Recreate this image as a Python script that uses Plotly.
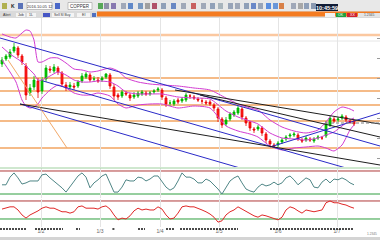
import plotly.graph_objects as go

W, H = 380, 240

# ---------------- data ----------------
bar_idx = list(range(89))
opens = [354,359,361,367,370,362,352,325,331,337,
         327,339,349,347,350,345,333,331,332,332,
         337,341,343,339,338,338,341,343,331,323,
         322,325,323,321,322,324,325,324,326,328,
         328,320,315,314,318,317,318,322,321,319,
         317,316,316,313,309,299,294,299,303,305,
         309,300,296,289,289,290,284,277,273,273,
         276,279,282,283,283,278,278,279,277,280,
         280,282,293,299,298,300,301,297,297]
highs = [361,364,369,375,372,364,355,334,342,340,
         341,353,352,354,352,347,336,336,335,338,
         345,346,345,342,341,342,345,345,334,325,
         328,327,325,326,327,328,327,327,329,331,
         330,322,318,319,320,321,325,324,323,321,
         320,318,318,315,311,301,301,306,308,312,
         311,302,297,291,293,292,286,279,275,277,
         280,283,285,286,285,280,282,281,281,283,
         282,297,302,301,301,304,303,299,298]
lows = [351,357,359,365,360,353,318,322,328,320,
        324,336,345,345,343,331,327,328,328,330,
        335,339,336,336,335,336,339,329,318,318,
        320,322,317,319,320,322,322,322,324,326,
        318,311,312,312,314,315,316,319,318,316,
        314,313,312,307,296,290,292,297,301,303,
        298,292,287,285,287,282,275,271,270,271,
        274,277,280,281,277,275,276,276,275,278,
        278,280,291,295,296,298,296,294,292]
closes = [358,362,366,371,363,356,323,330,338,326,
          338,350,348,351,346,334,330,333,331,336,
          342,344,338,339,337,340,344,332,322,321,
          326,324,320,323,325,326,324,325,327,329,
          321,314,315,317,316,319,323,322,320,318,
          317,315,314,310,300,293,298,304,306,310,
          301,295,290,288,291,285,278,274,272,275,
          278,281,283,284,279,277,280,278,279,281,
          280,294,300,297,299,302,298,296,294]

band_idx = [0,2,3.5,5,6,7,8,9,10,12,14,16,18,20,22,24,27,29,31,34,37,40,44,48,52,
            56,59,62,64,67,70,73,76,79,81,83,85,87,88]
band_upper = [384,381,380,385,388,387,378,356,356,360,360,355,349,348,346,347,350,347,
              340,336,334,333,332,330,328,320,314,310,308,298,291,287,285,288,296,306,
              311,309,307]
band_mid = [371,364,360,356,352,348,344,338,338,342,346,343,338,336,336,337,336,332,
            326,324,324,324,321,320,319,307,301,297,294,285,280,279,278,280,283,286,
            292,298,300]
band_lower = [358,346,336,318,312,310,311,314,320,328,333,330,325,323,323,325,322,314,
              310,313,314,314,310,312,310,292,287,284,281,272,268,270,271,272,270,267,
              273,288,293]

osc1 = [44,44,64,75,62,46,49,54,54,54,
        70,72,62,54,46,36,25,38,54,67,
        75,64,36,49,57,67,72,46,25,25,
        38,57,54,54,64,62,54,59,67,67,
        51,38,30,36,54,75,64,64,59,49,
        49,59,54,44,33,20,38,54,62,67,
        49,33,28,25,38,46,41,44,51,44,
        49,62,67,57,44,54,62,57,38,36,
        51,59,49,59,57,62,57,49,44]
osc2 = [52,54,57,57,50,39,32,39,43,48,
        54,57,54,54,50,46,46,43,46,57,
        59,54,54,54,52,57,59,52,39,28,
        32,30,37,48,54,50,52,50,50,57,
        52,39,30,32,43,57,59,57,57,54,
        50,46,41,34,23,26,39,46,50,57,
        52,46,41,37,34,39,37,34,30,28,
        34,50,57,54,48,43,50,48,46,48,
        50,66,70,66,66,63,61,57,54]

levels = [340, 327, 313, 297, 270]
level_top = 383
level_faint = 377
last_price = 295

blue_lines = [((-0.5, 380), (94.5, 272)),
              ((10.25, 337), (86, 250)),
              ((4.5, 314), (59.5, 250)),
              ((67, 271), (94.5, 305))]
black_lines = [((43.25, 328), (94.5, 294)),
               ((49.5, 323), (94.5, 281)),
               ((4.5, 314), (94.5, 253))]
orange_lines = [((1.5, 358), (16.25, 270))]

grid_idx = [9.75, 24.5, 39.5, 54.25, 69, 83.75]
grid_labels = ["1/2", "1/3", "1/4", "1/5", "1/6", "1/7"]
osc1_levels = (80, 20)
osc2_levels = (70, 30)
day_mark_ranges = [(-0.5, 6.25), (8.25, 15.25), (18.5, 19.5), (27.6, 28.1), (34, 35.75),
                   (41, 43.25), (44.5, 59), (67, 87.75)]

# ---------------- figure ----------------
def py(p):
    return 1 - p / H

def pxr(p):
    return p / W

XR = [-0.5, 94.5]
fig = go.Figure()

fig.add_trace(go.Candlestick(
    x=bar_idx, open=opens, high=highs, low=lows, close=closes,
    increasing=dict(line=dict(color="#00b400", width=0.8), fillcolor="#00c800"),
    decreasing=dict(line=dict(color="#e80000", width=0.8), fillcolor="#ff2020"),
    whiskerwidth=0, xaxis="x", yaxis="y", hoverinfo="skip", showlegend=False))

for vals in (band_upper, band_mid, band_lower):
    fig.add_trace(go.Scatter(x=band_idx, y=vals, mode="lines",
                             line=dict(color="#d23cd2", width=1, shape="spline", smoothing=0.6),
                             xaxis="x", yaxis="y", hoverinfo="skip", showlegend=False))

for group, col in ((blue_lines, "#2a2ac8"), (black_lines, "#1e1e1e"), (orange_lines, "#f2a868")):
    for (a, b) in group:
        fig.add_trace(go.Scatter(x=[a[0], b[0]], y=[a[1], b[1]], mode="lines",
                                 line=dict(color=col, width=1), xaxis="x", yaxis="y",
                                 hoverinfo="skip", showlegend=False))

fig.add_trace(go.Scatter(x=bar_idx, y=osc1, mode="lines", line=dict(color="#4f8686", width=1),
                         xaxis="x2", yaxis="y2", hoverinfo="skip", showlegend=False))
fig.add_trace(go.Scatter(x=bar_idx, y=osc2, mode="lines", line=dict(color="#e02828", width=1),
                         xaxis="x3", yaxis="y3", hoverinfo="skip", showlegend=False))

shapes = []
# toolbar backgrounds
shapes.append(dict(type="rect", xref="paper", yref="paper", x0=0, x1=1, y0=py(11), y1=1,
                   fillcolor="#e8e8e8", line=dict(width=0), layer="above"))
shapes.append(dict(type="rect", xref="paper", yref="paper", x0=0, x1=1, y0=py(18), y1=py(11),
                   fillcolor="#dadada", line=dict(width=0), layer="above"))
shapes.append(dict(type="rect", xref="paper", yref="paper", x0=pxr(97), x1=1, y0=py(16.5), y1=py(11.5),
                   fillcolor="#f47b20", line=dict(width=0), layer="above"))
for x0, x1, c in ((325, 335, "#f2f2f2"), (336, 346, "#1fa040"), (347, 357, "#d02030"), (358, 380, "#e4e4e4"),
                  (16, 25, "#f4f4f4"), (27, 36, "#f4f4f4"), (43, 50, "#4656c4"), (52, 74, "#f4f4f4"),
                  (77, 90, "#f4f4f4"), (92, 96, "#5070c0")):
    shapes.append(dict(type="rect", xref="paper", yref="paper", x0=pxr(x0), x1=pxr(x1), y0=py(17), y1=py(13),
                       fillcolor=c, line=dict(width=0), layer="above"))
icons = [(2, "#b0b050"), (18, "#5a72b8"), (55, "#4a68c8"), (98, "#58a858"), (104, "#9090a8"),
         (111, "#8878b0"), (121, "#a0a8b8"), (128, "#6088c8"), (138, "#7898c0"), (145, "#a0a0a0"),
         (152, "#b05068"), (161, "#90a0b8"), (171, "#6a88c4"), (181, "#a0a8b8"), (191, "#c86060"),
         (201, "#a0a8b8"), (210, "#90a0b8"), (218, "#a8b4bc"), (228, "#98a4b8"), (235, "#a0a8b8"),
         (244, "#90a0b8"), (251, "#6a88c8"), (258, "#98a4b8"), (266, "#5a8ee0"), (273, "#6a96d8"),
         (279, "#d88048"), (291, "#a0a8b8"), (298, "#a8a8a8"), (304, "#90a0b8"), (311, "#8898b0")]
for x0, c in icons:
    shapes.append(dict(type="rect", xref="paper", yref="paper", x0=pxr(x0), x1=pxr(x0 + 5),
                       y0=py(9), y1=py(3), fillcolor=c, line=dict(width=0), layer="above"))
for x0, x1 in ((27, 52), (68, 92)):
    shapes.append(dict(type="rect", xref="paper", yref="paper", x0=pxr(x0), x1=pxr(x1),
                       y0=py(9.5), y1=py(2.5), fillcolor="#ffffff",
                       line=dict(width=0.6, color="#9a9a9a"), layer="above"))
shapes.append(dict(type="rect", xref="paper", yref="paper", x0=pxr(316), x1=pxr(338),
                   y0=py(11), y1=py(4), fillcolor="#101c36", line=dict(width=0), layer="above"))

# price levels
shapes.append(dict(type="line", xref="paper", yref="y", x0=0, x1=1, y0=level_faint, y1=level_faint,
                   line=dict(color="#e6e6e6", width=1), layer="below"))
shapes.append(dict(type="line", xref="paper", yref="y", x0=0, x1=1, y0=level_top, y1=level_top,
                   line=dict(color="#fbc8a0", width=2.5), layer="below"))
for lv in levels:
    shapes.append(dict(type="line", xref="paper", yref="y", x0=0, x1=1, y0=lv, y1=lv,
                       line=dict(color="#f2a560", width=1.5), layer="below"))
shapes.append(dict(type="line", xref="x", yref="y", x0=81, x1=XR[1], y0=last_price, y1=last_price,
                   line=dict(color="#7a7a7a", width=1, dash="3px,2px"), layer="above"))

# oscillator guide lines
for yr, lv in (("y2", osc1_levels), ("y3", osc2_levels)):
    shapes.append(dict(type="line", xref="paper", yref=yr, x0=0, x1=1, y0=lv[0], y1=lv[0],
                       line=dict(color="#b03a3a", width=1), layer="below"))
    shapes.append(dict(type="line", xref="paper", yref=yr, x0=0, x1=1, y0=lv[1], y1=lv[1],
                       line=dict(color="#2e9e3e", width=1), layer="below"))
shapes.append(dict(type="line", xref="paper", yref="paper", x0=0, x1=1, y0=py(168), y1=py(168),
                   line=dict(color="#9fd09f", width=1)))
# day marks strip
for a, b in day_mark_ranges:
    shapes.append(dict(type="line", xref="x3", yref="paper", x0=a, x1=b, y0=py(229), y1=py(229),
                       line=dict(color="#111111", width=1.5, dash="2px,1px")))
shapes.append(dict(type="rect", xref="paper", yref="paper", x0=0, x1=1, y0=0, y1=py(237),
                   fillcolor="#d4d4d4", line=dict(width=0)))

annotations = []
def txt(x, y, s, size=4.5, color="#333333", bold=False):
    annotations.append(dict(xref="paper", yref="paper", x=pxr(x), y=py(y), text=("<b>%s</b>" % s) if bold else s,
                            showarrow=False, xanchor="center", yanchor="middle",
                            font=dict(size=size, color=color, family="Liberation Sans")))
txt(39.5, 6, "2016.10.05 12", 4)
txt(80, 6, "COPPER", 4.5)
txt(12.5, 6, "K", 5, "#222222", True)
txt(327, 7.6, "10:45:59", 5.5, "#ffffff", True)
txt(7, 15, "Alert", 3.6)
txt(20.5, 15, "Job", 3.6)
txt(31.5, 15, "1L", 3.6)
txt(63, 15, "Sell Sl Buy", 3.4)
txt(83.5, 15, "EI", 3.6)
txt(341, 15, "OK", 3.6, "#ffffff")
txt(352, 15, "XX", 3.6, "#ffffff")
txt(369, 15, "1.2345", 3.4, "#555555")
txt(372, 233.5, "1.2345", 3.2, "#777777")

grid_kw = dict(showgrid=True, gridcolor="#e4e4e4", gridwidth=1, tickvals=grid_idx, zeroline=False,
               range=XR, showline=False, fixedrange=True)
fig.update_layout(
    width=W, height=H, margin=dict(l=0, r=0, t=0, b=0, pad=0),
    paper_bgcolor="white", plot_bgcolor="white", showlegend=False,
    font=dict(family="Liberation Sans", size=5, color="#555555"),
    xaxis=dict(domain=[0, 1], anchor="y", showticklabels=False, rangeslider=dict(visible=False), **grid_kw),
    yaxis=dict(domain=[py(167), py(18)], range=[251, 400], side="right", showgrid=False, zeroline=False,
               ticks="inside", ticklen=3, tickcolor="#9a9a9a", dtick=20, showticklabels=False),
    xaxis2=dict(domain=[0, 1], anchor="y2", showticklabels=False, **grid_kw),
    yaxis2=dict(domain=[py(198), py(168)], range=[9.6, 87.8], showgrid=False, zeroline=False,
                showticklabels=False),
    xaxis3=dict(domain=[0, 1], anchor="y3", showticklabels=True, ticktext=grid_labels, ticks="",
                tickfont=dict(size=5, color="#666666"), automargin=False, **grid_kw),
    yaxis3=dict(domain=[py(227), py(199)], range=[12.2, 74.4], showgrid=False, zeroline=False,
                showticklabels=False),
    shapes=shapes, annotations=annotations,
)

fig.write_html("out.html")
